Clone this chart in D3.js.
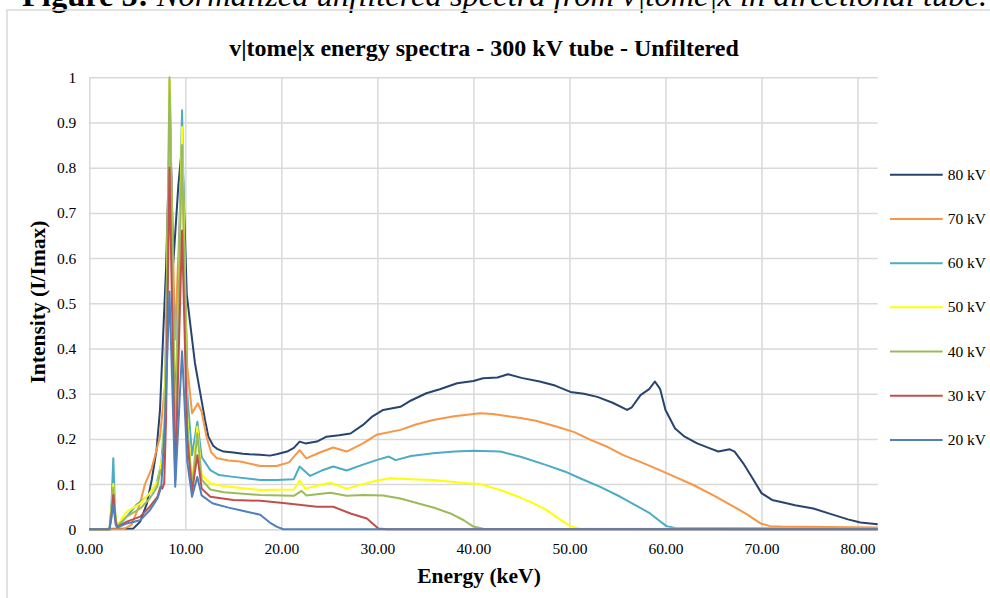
<!DOCTYPE html>
<html>
<head>
<meta charset="utf-8">
<script src="https://cdn.jsdelivr.net/npm/d3@7"></script>
<style>
  body { margin: 0; background: #fff; }
  svg { display: block; font-family: "Liberation Serif", "Times New Roman", serif; }
</style>
</head>
<body>
<div id="chart"></div>
<script>
// spectra: [energy keV, I/Imax]
const kv80 = [[0,0],[4.6,0.002],[5.3,0.017],[6.0,0.057],[6.5,0.109],[7.0,0.175],[7.36,0.264],[7.7,0.434],[8.0,0.58],[8.4,0.9],[8.75,0.59],[9.27,0.76],[9.66,0.85],[10.15,0.52],[10.5,0.456],[11.0,0.368],[11.5,0.308],[12.05,0.242],[12.4,0.205],[12.9,0.185],[13.3,0.178],[14,0.172],[15,0.17],[16,0.167],[16.7,0.166],[17.8,0.165],[18.8,0.163],[19.5,0.166],[20.6,0.172],[21.3,0.18],[21.9,0.194],[22.5,0.19],[23.7,0.194],[24.7,0.205],[26,0.208],[27.2,0.212],[28.5,0.231],[29.5,0.25],[30.6,0.264],[32.4,0.271],[33.5,0.285],[35.1,0.301],[36.5,0.31],[38.3,0.323],[40,0.328],[41,0.334],[42.5,0.336],[43.6,0.343],[45,0.335],[46.9,0.327],[48.5,0.318],[50.1,0.304],[51.5,0.3],[52.9,0.293],[54.5,0.28],[56.0,0.264],[56.5,0.27],[57.4,0.297],[58.3,0.31],[58.9,0.327],[59.45,0.31],[60.0,0.264],[61.0,0.223],[62,0.205],[63.3,0.19],[64.5,0.18],[65.5,0.172],[66.7,0.177],[67.2,0.172],[68.1,0.146],[69,0.115],[70.0,0.08],[71.1,0.065],[72.5,0.058],[73.5,0.053],[75.4,0.046],[77.5,0.032],[79,0.022],[80.3,0.015],[82.1,0.011]];
const kv70 = [[0,0],[3.5,0],[4.4,0.01],[5.28,0.057],[5.8,0.1],[6.5,0.135],[7.36,0.205],[7.9,0.323],[8.4,0.92],[8.93,0.42],[9.66,0.82],[10.2,0.36],[10.7,0.257],[11.3,0.279],[11.7,0.26],[12.2,0.205],[12.7,0.17],[13.3,0.157],[14.5,0.152],[15.7,0.15],[17.8,0.14],[19.5,0.14],[20.8,0.148],[21.9,0.175],[22.6,0.157],[24,0.17],[25.4,0.181],[26.8,0.172],[28.5,0.19],[29.9,0.209],[32.4,0.22],[34,0.232],[35.8,0.242],[38,0.25],[40.7,0.257],[42,0.255],[44.9,0.246],[46.5,0.24],[48.7,0.227],[50.5,0.215],[52.2,0.198],[54,0.182],[55.6,0.164],[57.5,0.148],[59.4,0.131],[61,0.116],[62.9,0.098],[65,0.075],[67.1,0.05],[68.5,0.033],[69.9,0.013],[70.9,0.007],[72,0.006],[82.1,0.004]];
const kv60 = [[0,0],[2.1,0],[2.3,0.05],[2.5,0.157],[2.7,0.03],[2.9,0.005],[3.9,0.028],[4.9,0.054],[6.0,0.072],[7.0,0.1],[7.5,0.146],[7.85,0.249],[8.4,0.97],[8.95,0.22],[9.66,0.927],[10.2,0.3],[10.7,0.164],[11.25,0.238],[11.7,0.16],[12.6,0.131],[13.5,0.12],[15.0,0.116],[17.8,0.109],[19.5,0.109],[21.3,0.111],[21.9,0.139],[23.0,0.118],[24.2,0.13],[25.4,0.139],[26.8,0.13],[28.5,0.143],[29.9,0.153],[31.2,0.161],[31.9,0.153],[33.5,0.162],[35.8,0.168],[38,0.172],[40,0.174],[42.8,0.172],[45,0.16],[47.6,0.142],[49.5,0.128],[51.1,0.113],[53.2,0.094],[55.3,0.072],[57,0.052],[58.4,0.035],[59.3,0.02],[60.1,0.007],[61,0.003],[82.1,0.002]];
const kv50 = [[0,0],[2.1,0],[2.3,0.04],[2.5,0.1],[2.75,0.02],[2.9,0.008],[3.9,0.039],[5.3,0.057],[6.3,0.08],[7.2,0.109],[7.7,0.175],[8.0,0.4],[8.35,0.995],[8.95,0.153],[9.66,0.89],[10.2,0.25],[10.7,0.1],[11.25,0.227],[11.7,0.12],[12.6,0.102],[14,0.095],[17.8,0.087],[21.3,0.088],[21.9,0.108],[22.5,0.09],[24,0.098],[25.1,0.103],[26.8,0.09],[28.5,0.1],[30,0.108],[31.3,0.113],[33.5,0.111],[35.8,0.109],[39.3,0.102],[40.7,0.1],[42.8,0.087],[44.2,0.076],[46,0.06],[47.6,0.043],[49,0.022],[50.1,0.007],[51,0.002],[82.1,0.001]];
const kv40 = [[0,0],[2.1,0],[2.3,0.04],[2.5,0.092],[2.75,0.02],[2.9,0.007],[3.9,0.028],[5.3,0.046],[6.3,0.068],[7.1,0.095],[7.4,0.131],[7.55,0.12],[7.8,0.16],[8.0,0.4],[8.35,1.0],[8.95,0.153],[9.66,0.85],[10.2,0.23],[10.7,0.092],[11.25,0.212],[11.7,0.11],[12.6,0.088],[14,0.082],[17.8,0.076],[21.3,0.074],[22.1,0.085],[22.6,0.075],[25.1,0.081],[26.8,0.074],[28.5,0.076],[30.6,0.075],[32.4,0.068],[34.1,0.058],[36,0.047],[37.6,0.035],[39,0.02],[40,0.006],[41,0.001],[82.1,0]];
const kv30 = [[0,0],[2.1,0],[2.3,0.03],[2.5,0.076],[2.75,0.015],[2.9,0.005],[3.9,0.017],[5.3,0.028],[6.3,0.05],[7.1,0.072],[7.4,0.094],[7.6,0.09],[7.8,0.101],[8.0,0.25],[8.35,0.8],[8.95,0.109],[9.66,0.661],[10.2,0.2],[10.7,0.083],[11.25,0.164],[11.7,0.09],[12.6,0.072],[15,0.065],[17.8,0.063],[20.2,0.058],[23.7,0.05],[25.4,0.05],[27.2,0.035],[28.9,0.024],[30.1,0.002],[31,0],[82.1,0]];
const kv20 = [[0,0],[2.1,0],[2.3,0.025],[2.5,0.055],[2.75,0.01],[2.9,0.004],[3.9,0.013],[5.3,0.02],[6.3,0.042],[7.1,0.068],[7.5,0.094],[7.9,0.25],[8.35,0.526],[8.95,0.094],[9.66,0.394],[10.2,0.15],[10.7,0.072],[11.25,0.116],[11.7,0.075],[12.6,0.061],[12.9,0.057],[14.5,0.048],[16.4,0.039],[17.8,0.032],[18.8,0.015],[19.5,0.006],[20.2,0],[82.1,0]];

const seriesNames = ['80 kV', '70 kV', '60 kV', '50 kV', '40 kV', '30 kV', '20 kV'];
const seriesData = [kv80, kv70, kv60, kv50, kv40, kv30, kv20];
const colors = ['#27446e', '#f79646', '#4bacc6', '#ffff00', '#9bbb59', '#c0504d', '#4f81bd'];
const xTicks = [0, 10, 20, 30, 40, 50, 60, 70, 80];
const yTicks = [0, 0.1, 0.2, 0.3, 0.4, 0.5, 0.6, 0.7, 0.8, 0.9, 1];
const yTickLabels = ['0', '0.1', '0.2', '0.3', '0.4', '0.5', '0.6', '0.7', '0.8', '0.9', '1'];

const W = 990, H = 598;
const plot = { left: 89.3, right: 877.7, top: 77.3, bottom: 529.3 };
const grid = '#d9d9d9';

const svg = d3.select('#chart').append('svg')
  .attr('width', W)
  .attr('height', H);

// figure caption above the chart box (cut by the page top, as in the source)
svg.append('text')
  .attr('x', 22)
  .attr('y', 6)
  .style('font-size', '32.5px')
  .call(t => {
    t.append('tspan').style('font-weight', 'bold').text('Figure 5:');
    t.append('tspan').style('font-style', 'italic').text(' Normalized unfiltered spectra from v|tome|x in directional tube.');
  });

// chart frame
svg.append('rect')
  .attr('x', 7).attr('y', 10)
  .attr('width', W).attr('height', H)
  .attr('fill', 'none')
  .attr('stroke', grid)
  .attr('stroke-width', 1.5);

const x = d3.scaleLinear().domain([0, 82.1]).range([plot.left, plot.right]);
const y = d3.scaleLinear().domain([0, 1]).range([plot.bottom, plot.top]);

// y gridlines + labels
const yAxis = svg.append('g')
  .attr('transform', `translate(${plot.left},0)`)
  .call(d3.axisLeft(y)
    .tickValues(yTicks)
    .tickSize(-(plot.right - plot.left))
    .tickSizeOuter(0)
    .tickPadding(13)
    .tickFormat((d, i) => yTickLabels[i]));
yAxis.select('.domain').remove();
yAxis.selectAll('line').attr('stroke', grid).attr('stroke-width', 1.5);
yAxis.selectAll('text').style('font-size', '15.5px').style('font-family', 'Liberation Serif').attr('fill', '#000');

// x gridlines + labels
const xAxis = svg.append('g')
  .attr('transform', `translate(0,${plot.bottom})`)
  .call(d3.axisBottom(x)
    .tickValues(xTicks)
    .tickSize(-(plot.bottom - plot.top))
    .tickSizeOuter(0)
    .tickPadding(14)
    .tickFormat(d3.format('.2f')));
xAxis.select('.domain').attr('stroke', grid).attr('stroke-width', 1.5);
xAxis.selectAll('line').attr('stroke', grid).attr('stroke-width', 1.5);
xAxis.selectAll('text').style('font-size', '15.5px').style('font-family', 'Liberation Serif').attr('fill', '#000');

// spectra, 80 kV first so 20 kV sits on top
const line = d3.line()
  .x(d => x(d[0]))
  .y(d => y(d[1]));

svg.append('g')
  .selectAll('path')
  .data(seriesData)
  .join('path')
  .attr('d', line)
  .attr('fill', 'none')
  .attr('stroke', (d, i) => colors[i])
  .attr('stroke-width', 2)
  .attr('stroke-linejoin', 'round');

// title
svg.append('text')
  .attr('x', 484)
  .attr('y', 56)
  .attr('text-anchor', 'middle')
  .style('font-size', '24px')
  .style('font-weight', 'bold')
  .text('v|tome|x energy spectra - 300 kV tube - Unfiltered');

// axis titles
svg.append('text')
  .attr('x', 479)
  .attr('y', 583)
  .attr('text-anchor', 'middle')
  .style('font-size', '21.5px')
  .style('font-weight', 'bold')
  .text('Energy (keV)');

svg.append('text')
  .attr('transform', 'translate(45,302) rotate(-90)')
  .attr('text-anchor', 'middle')
  .style('font-size', '21.5px')
  .style('font-weight', 'bold')
  .text('Intensity (I/Imax)');

// legend
const legendY = d3.scalePoint().domain(seriesNames).range([174.7, 440]);
const legend = svg.append('g')
  .selectAll('g')
  .data(seriesNames)
  .join('g')
  .attr('transform', d => `translate(0,${legendY(d)})`);
legend.append('line')
  .attr('x1', 890).attr('x2', 942.7)
  .attr('stroke', (d, i) => colors[i])
  .attr('stroke-width', 2);
legend.append('text')
  .attr('x', 947.7)
  .attr('dy', '0.32em')
  .style('font-size', '15.5px')
  .text(d => d);
</script>
</body>
</html>
